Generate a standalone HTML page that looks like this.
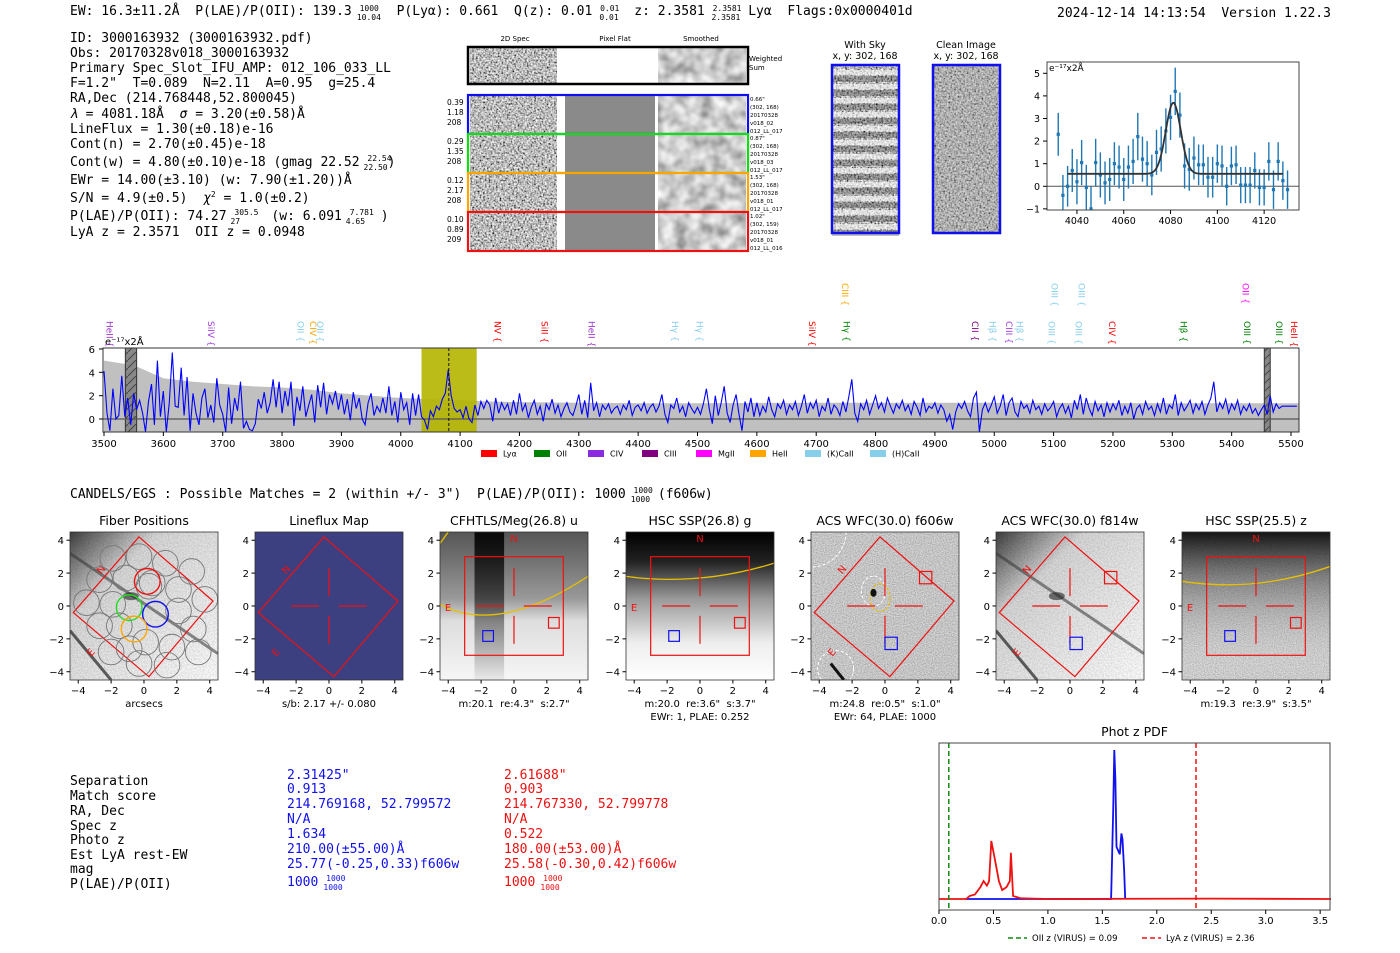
<!DOCTYPE html>
<html><head><meta charset="utf-8"><style>
html,body{margin:0;padding:0;background:#fff;width:1400px;height:953px;overflow:hidden}
svg{display:block}
text,tspan{white-space:pre}
.m{font-family:"DejaVu Sans Mono","Liberation Mono",monospace;font-size:13px;white-space:pre}
.s{font-family:"DejaVu Sans","Liberation Sans",sans-serif}
</style></head><body>
<svg id="root" width="1400" height="953" viewBox="0 0 1400 953" xmlns="http://www.w3.org/2000/svg" xml:space="preserve">
<defs>
<filter id="nz" x="0" y="0" width="100%" height="100%"><feTurbulence type="fractalNoise" baseFrequency="0.55" numOctaves="2" seed="3"/><feColorMatrix type="matrix" values="1.7 0 0 0 -0.35  1.7 0 0 0 -0.35  1.7 0 0 0 -0.35  0 0 0 0 1"/></filter>
<filter id="nzs" x="0" y="0" width="100%" height="100%"><feTurbulence type="fractalNoise" baseFrequency="0.08" numOctaves="2" seed="5"/><feColorMatrix type="matrix" values="1.0 0 0 0 0.1  1.0 0 0 0 0.1  1.0 0 0 0 0.1  0 0 0 0 1"/></filter>
<filter id="nzl" x="0" y="0" width="100%" height="100%"><feTurbulence type="fractalNoise" baseFrequency="0.7" numOctaves="1" seed="8"/><feColorMatrix type="matrix" values="0.8 0 0 0 0.45  0.8 0 0 0 0.45  0.8 0 0 0 0.45  0 0 0 0 1"/></filter>
<filter id="nzm" x="0" y="0" width="100%" height="100%"><feTurbulence type="fractalNoise" baseFrequency="0.9" numOctaves="1" seed="11"/><feColorMatrix type="matrix" values="1.2 0 0 0 0.05  1.2 0 0 0 0.05  1.2 0 0 0 0.05  0 0 0 0 1"/></filter>
<pattern id="hatch" width="8" height="8" patternUnits="userSpaceOnUse"><path d="M0 8 L8 0" stroke="#444" stroke-width="1"/></pattern>
<linearGradient id="g4" x1="0" y1="0" x2="0" y2="1"><stop offset="0" stop-color="#000"/><stop offset="0.2" stop-color="#222"/><stop offset="0.45" stop-color="#999"/><stop offset="0.75" stop-color="#eee"/><stop offset="1" stop-color="#fff"/></linearGradient>
<linearGradient id="g7" x1="0" y1="0" x2="0" y2="1"><stop offset="0" stop-color="#000" stop-opacity="0.9"/><stop offset="0.3" stop-color="#333" stop-opacity="0.5"/><stop offset="1" stop-color="#fff" stop-opacity="0"/></linearGradient>
<linearGradient id="g3" x1="0" y1="0" x2="0" y2="1"><stop offset="0" stop-color="#555"/><stop offset="0.45" stop-color="#999"/><stop offset="0.6" stop-color="#ddd"/><stop offset="1" stop-color="#f6f6f6"/></linearGradient>
<linearGradient id="g3v" x1="0" y1="0" x2="0" y2="1"><stop offset="0" stop-color="#000" stop-opacity="0.9"/><stop offset="0.45" stop-color="#000" stop-opacity="0.55"/><stop offset="1" stop-color="#000" stop-opacity="0.05"/></linearGradient>
<linearGradient id="g1" x1="0" y1="0" x2="1" y2="1"><stop offset="0" stop-color="#000" stop-opacity="0.75"/><stop offset="0.3" stop-color="#000" stop-opacity="0.15"/><stop offset="1" stop-color="#000" stop-opacity="0"/></linearGradient>
</defs>

<!-- header -->
<text class="m" x="70" y="15">EW: 16.3±11.2Å  P(LAE)/P(OII): 139.3 <tspan font-size="8" dy="-4">1000</tspan><tspan font-size="8" dx="-22" dy="9">10.04</tspan><tspan dy="-5">  P(Lyα): 0.661  Q(z): 0.01 </tspan><tspan font-size="8" dy="-4">0.01</tspan><tspan font-size="8" dx="-20" dy="9">0.01</tspan><tspan dy="-5">  z: 2.3581 </tspan><tspan font-size="8" dy="-4">2.3581</tspan><tspan font-size="8" dx="-30" dy="9">2.3581</tspan><tspan dy="-5"> Lyα  Flags:0x0000401d</tspan></text>
<text class="m" x="1057" y="17">2024-12-14 14:13:54  Version 1.22.3</text>

<g>
<text class="m" x="70" y="42">ID: 3000163932 (3000163932.pdf)</text>
<text class="m" x="70" y="57">Obs: 20170328v018_3000163932</text>
<text class="m" x="70" y="72">Primary Spec_Slot_IFU_AMP: 012_106_033_LL</text>
<text class="m" x="70" y="87">F=1.2"  T=0.089  N=2.11  A=0.95  g=25.4</text>
<text class="m" x="70" y="102">RA,Dec (214.768448,52.800045)</text>
<text class="m" x="70" y="118"><tspan font-style="italic">λ</tspan> = 4081.18Å  <tspan font-style="italic">σ</tspan> = 3.20(±0.58)Å</text>
<text class="m" x="70" y="133">LineFlux = 1.30(±0.18)e-16</text>
<text class="m" x="70" y="148">Cont(n) = 2.70(±0.45)e-18</text>
<text class="m" x="70" y="166">Cont(w) = 4.80(±0.10)e-18 (gmag 22.52 <tspan font-size="8" dy="-5">22.54</tspan><tspan font-size="8" dx="-28" dy="9">22.50</tspan><tspan dy="-4">)</tspan></text>
<text class="m" x="70" y="184">EWr = 14.00(±3.10) (w: 7.90(±1.20))Å</text>
<text class="m" x="70" y="202">S/N = 4.9(±0.5)  <tspan font-style="italic">χ</tspan><tspan font-size="8" dy="-5">2</tspan><tspan dy="5"> = 1.0(±0.2)</tspan></text>
<text class="m" x="70" y="220">P(LAE)/P(OII): 74.27 <tspan font-size="8" dy="-5">305.5</tspan><tspan font-size="8" dx="-28" dy="9">27</tspan><tspan dy="-4">    (w: 6.091 </tspan><tspan font-size="8" dy="-5">7.781</tspan><tspan font-size="8" dx="-28" dy="9">4.65</tspan><tspan dy="-4">  )</tspan></text>
<text class="m" x="70" y="236">LyA z = 2.3571  OII z = 0.0948</text>
</g>

<!-- 2D spectra -->
<g class="s" font-size="7">
<text x="515" y="41" text-anchor="middle">2D Spec</text>
<text x="615" y="41" text-anchor="middle">Pixel Flat</text>
<text x="701" y="41" text-anchor="middle">Smoothed</text>
<rect x="470" y="48" width="87" height="35" filter="url(#nz)"/>
<rect x="658" y="48" width="88" height="35" filter="url(#nzs)"/>
<rect x="468" y="47" width="280" height="37" fill="none" stroke="#000" stroke-width="2.5"/>
<text x="749" y="61">Weighted</text><text x="749" y="70">Sum</text>
<g id="rows2d"></g>
</g>

<g class="s" font-size="9.5">
<text x="865" y="48" text-anchor="middle">With Sky</text>
<text x="865" y="59" text-anchor="middle">x, y: 302, 168</text>
<text x="966" y="48" text-anchor="middle">Clean Image</text>
<text x="966" y="59" text-anchor="middle">x, y: 302, 168</text>
<rect x="832" y="65" width="67" height="168" filter="url(#nz)"/>
<g id="skystripes"></g>
<rect x="832" y="65" width="67" height="168" fill="none" stroke="#1010ee" stroke-width="2.5"/>
<rect x="933" y="65" width="67" height="168" filter="url(#nz)"/>
<rect x="933" y="65" width="67" height="168" fill="#999" opacity="0.35"/>
<rect x="933" y="65" width="67" height="168" fill="none" stroke="#1010ee" stroke-width="2.5"/>
</g>

<g id="zoomplot"></g>
<g id="specplot"></g>

<text class="m" x="70" y="498">CANDELS/EGS : Possible Matches = 2 (within +/- 3")  P(LAE)/P(OII): 1000 <tspan font-size="8" dy="-5">1000</tspan><tspan font-size="8" dx="-22" dy="9">1000</tspan><tspan dy="-4"> (f606w)</tspan></text>

<g id="cutouts"></g>

<g>
<g fill="#000">
<text class="m" x="70" y="785">Separation</text><text class="m" x="70" y="800">Match score</text><text class="m" x="70" y="815">RA, Dec</text><text class="m" x="70" y="830">Spec z</text><text class="m" x="70" y="844">Photo z</text><text class="m" x="70" y="859">Est LyA rest-EW</text><text class="m" x="70" y="873">mag</text><text class="m" x="70" y="888">P(LAE)/P(OII)</text>
</g>
<g fill="#1010ee">
<text class="m" x="287" y="779">2.31425"</text><text class="m" x="287" y="793">0.913</text><text class="m" x="287" y="808">214.769168, 52.799572</text><text class="m" x="287" y="823">N/A</text><text class="m" x="287" y="838">1.634</text><text class="m" x="287" y="853">210.00(±55.00)Å</text><text class="m" x="287" y="868">25.77(-0.25,0.33)f606w</text><text class="m" x="287" y="886">1000 <tspan font-size="8" dy="-5">1000</tspan><tspan font-size="8" dx="-22" dy="9">1000</tspan></text>
</g>
<g fill="#ee1010">
<text class="m" x="504" y="779">2.61688"</text><text class="m" x="504" y="793">0.903</text><text class="m" x="504" y="808">214.767330, 52.799778</text><text class="m" x="504" y="823">N/A</text><text class="m" x="504" y="838">0.522</text><text class="m" x="504" y="853">180.00(±53.00)Å</text><text class="m" x="504" y="868">25.58(-0.30,0.42)f606w</text><text class="m" x="504" y="886">1000 <tspan font-size="8" dy="-5">1000</tspan><tspan font-size="8" dx="-22" dy="9">1000</tspan></text>
</g>
</g>

<g id="pdfplot"></g>
</svg>

<script>
// ===== full spectrum data (5 Å steps from 3500) =====
var specStart = 3500;
var specStep = 5;
var specFlux = [
4.1,0.5,-1,2.6,0,0.3,3.7,0.2,1.8,-0.5,
2.2,0.8,1.6,0.5,-1.1,1.5,3,-0.5,5,0.2,
2.4,-1.1,1.4,5.7,1.1,1,4.4,0.3,3.6,-1,
2.2,0.5,-0.5,1.8,2.6,0.1,1.2,-0.3,3.5,1.2,
0.4,-1.1,2.7,-0.4,1.8,0.7,3.2,-0.8,-0.2,-0.9,
-1,-0.4,1.7,0.9,2.3,0.5,1.4,3.4,1.0,3.2,
0.5,2.4,1.1,3.2,-0.6,1.9,0.7,2.8,0.2,1.2,
2.1,-0.3,2.9,1.0,3.1,0.4,2.1,1.3,2.4,0.8,
2.1,0.4,1.7,-0.1,2.3,0.9,1.8,0.0,-0.5,1.4,
2.2,0.3,1.1,0.6,1.8,0.5,2.8,0.3,1.5,-0.3,
2.3,0.8,1.4,-0.5,2.2,0.3,2.1,0.2,-0.1,-0.9,
0.7,0.2,1.1,0.8,1.7,2.2,4.2,2.0,0.9,0.6,
0.8,0.1,1.1,0.0,-0.3,1.2,0.3,1.5,0.9,1.6,
1.2,-0.2,1.8,0.5,1.4,0.8,1.3,0.3,1.6,0.4,
2.2,0.7,1.3,0.1,1.0,1.6,0.4,1.1,-0.2,1.3,
0.8,1.7,0.5,1.2,0.2,0.9,1.4,0.6,0.3,1.1,
2.1,0.4,1.6,0.1,3.1,0.7,1.4,0.2,1.2,0.8,
1.3,0.5,0.9,1.1,0.4,1.2,0.8,1.6,0.3,1.0,
1.2,0.7,1.4,0.5,1.0,1.3,0.6,1.1,2.1,0.4,
-0.3,1.2,0.9,1.8,0.6,1.1,0.2,1.4,0.9,0.5,
1.0,0.4,1.3,2.6,0.8,-0.4,2.0,0.3,1.4,2.8,
0.5,-0.3,1.2,2.1,0.4,-1.0,1.5,0.6,1.8,0.2,
1.4,0.3,1.1,0.6,1.9,0.8,0.2,1.3,0.9,1.6,
0.4,1.2,0.8,1.5,0.3,1.1,2.1,0.5,1.4,0.9,
1.6,0.2,1.1,0.7,1.8,0.4,1.2,0.9,0.3,1.5,
0.6,1.9,3.4,0.5,-0.2,1.3,0.8,1.6,0.4,1.2,
2.0,0.9,1.4,0.6,1.8,1.1,0.5,1.3,0.9,1.6,
0.7,1.2,0.4,1.5,1.0,0.3,1.8,0.6,1.1,0.9,
1.4,0.5,1.2,0.8,-0.2,0.4,-0.9,0.6,1.3,0.9,
1.5,0.7,0.2,1.8,2.3,-1.3,0.8,1.4,0.6,1.2,
1.9,0.5,1.1,2.1,0.3,1.4,1.8,0.6,0.2,1.5,
0.9,1.2,0.5,1.6,0.8,1.1,0.4,1.3,0.7,1.0,
1.5,0.2,0.9,1.3,0.5,1.1,0.1,1.6,0.8,2.1,
0.4,1.8,0.9,0.3,1.5,0.7,1.2,0.2,1.4,0.6,
1.3,0.8,1.6,0.3,1.1,0.5,1.4,0.0,0.9,1.2,
0.4,1.5,0.8,1.1,0.3,1.3,0.6,1.8,0.4,1.2,
0.9,2.1,0.3,1.4,0.7,1.1,1.6,0.5,1.3,0.8,
1.5,0.4,1.2,1.8,3.2,0.6,1.4,0.9,1.7,0.5,
1.3,0.8,1.6,0.4,1.1,0.7,1.3,0.5,0.9,0.3,
0.8,1.2,0.4,2.0,0.6,1.3,0.9,1.1,1.1,1.1,
1.1,1.1,1.1];
var noiseWave = [3500,3550,3600,3650,3700,3750,3800,3850,3900,3950,4000,4050,4100,4150,4200,4300,4400,4500,4700,5000,5300,5500];
var noiseLevel = [5.0,4.6,3.5,3.2,3.0,2.8,2.7,2.5,2.2,2.0,1.8,1.7,1.6,1.5,1.45,1.4,1.35,1.35,1.4,1.4,1.35,1.35];
var specTicks = [3500,3600,3700,3800,3900,4000,4100,4200,4300,4400,4500,4600,4700,4800,4900,5000,5100,5200,5300,5400,5500];
var specYTicks = [0,2,4,6];
var lineNames = ["HeII","SiIV","OII","CIV","OII","NV","SiII","HeII","Hγ","Hγ","SiIV","Hγ","CII","Hβ","CIII","Hβ","OIII","OIII","CIV","Hβ","OIII","OIII","HeII","CIII","OIII","OIII","OII"];
var lineWaves = [3510,3681,3832,3853,3865,4164,4243,4322,4463,4504,4694,4752,4968,4998,5026,5043,5097,5143,5199,5320,5427,5481,5506,4749,5102,5148,5424];
var lineColors = ["#9932cc","#a040e0","#87ceeb","#ffa500","#87ceeb","#ff0000","#ff0000","#9932cc","#87ceeb","#87ceeb","#ff0000","#008000","#800080","#87ceeb","#a040e0","#87ceeb","#87ceeb","#87ceeb","#ff0000","#008000","#008000","#008000","#ff0000","#ffa500","#87ceeb","#87ceeb","#ff00ff"];
var lineRow = [0,0,0,0,0,0,0,0,0,0,0,0,0,0,0,0,0,0,0,0,0,0,0,1,1,1,1];
var legendNames = ["Lyα","OII","CIV","CIII","MgII","HeII","(K)CaII","(H)CaII"];
var legendColors = ["#ff0000","#008000","#8a2be2","#800080","#ff00ff","#ffa500","#87ceeb","#87ceeb"];

// ===== zoom fit data =====
var fitWave = [4032,4034,4036,4038,4040,4042,4044,4046,4048,4050,4052,4054,4056,4058,4060,4062,4064,4066,4068,4070,4072,4074,4076,4078,4080,4082,4084,4086,4088,4090,4092,4094,4096,4098,4100,4102,4104,4106,4108,4110,4112,4114,4116,4118,4120,4122,4124,4126,4128,4130];
var fitFlux = [2.3,-0.4,0.0,0.7,0.2,1.05,-0.05,-1.0,1.05,0.5,0.15,0.3,1.0,0.85,0.3,0.85,1.1,2.2,1.2,1.0,0.5,1.5,1.65,2.45,3.05,4.2,3.15,0.9,0.75,1.25,0.95,0.95,0.4,0.4,1.0,0.9,0.0,0.9,0.95,0.05,0.05,0.05,0.7,-0.05,-0.05,1.1,-0.15,1.1,0.25,-0.15];
var fitErr = [0.95,0.9,0.9,0.95,1.0,1.0,1.0,1.0,1.05,1.0,0.95,0.95,0.95,0.95,0.95,0.95,1.0,1.05,1.0,1.0,0.9,1.0,1.0,1.0,1.0,1.05,1.0,1.0,0.95,0.95,0.9,0.9,0.9,0.9,0.85,0.9,0.85,0.85,0.85,0.8,0.8,0.8,0.8,0.8,0.8,0.85,0.85,0.85,0.85,0.85];
var fitParams = [4081.18, 3.20, 3.15, 0.55]; // center, sigma, amplitude, continuum
var fitTicks = [4040,4060,4080,4100,4120];
var fitYTicks = [-1,0,1,2,3,4,5];

// ===== photo-z PDF =====
var pdfRedZ = [0,0.25,0.28,0.33,0.38,0.41,0.44,0.46,0.48,0.51,0.55,0.58,0.62,0.65,0.66,0.68,0.75,1.0,2.5,3.6];
var pdfRedP = [0,0,0.02,0.03,0.08,0.12,0.09,0.12,0.39,0.28,0.12,0.06,0.08,0.12,0.31,0.02,0.005,0,0.003,0];
var pdfBlueZ = [0.25,1.58,1.60,1.61,1.62,1.63,1.66,1.675,1.685,1.70,1.71];
var pdfBlueP = [0,0,0.6,1.0,0.8,0.35,0.3,0.44,0.4,0.2,0];
var pdfTicks = [0.0,0.5,1.0,1.5,2.0,2.5,3.0,3.5];
var pdfOIIz = [0.09];
var pdfLyAz = [2.36];

// ===== cutouts =====
var cutTitles = ["Fiber Positions","Lineflux Map","CFHTLS/Meg(26.8) u","HSC SSP(26.8) g","ACS WFC(30.0) f606w","ACS WFC(30.0) f814w","HSC SSP(25.5) z"];
var cutSub1 = ["arcsecs","s/b: 2.17 +/- 0.080","m:20.1  re:4.3\"  s:2.7\"","m:20.0  re:3.6\"  s:3.7\"","m:24.8  re:0.5\"  s:1.0\"","","m:19.3  re:3.9\"  s:3.5\""];
var cutSub2 = ["","","","EWr: 1, PLAE: 0.252","EWr: 64, PLAE: 1000","",""];
var cutTicks = [-4,-2,0,2,4];
var fiberX = [-1.9,-0.3,1.3,2.9,-2.7,-1.1,0.5,2.1,3.7,-3.5,-1.9,0.3,2.1,3.0,-2.7,-1.5,0.1,1.7,3.3,-2.0,-0.3,1.4,-0.9];
var fiberY = [2.9,3.0,2.6,2.1,1.6,1.7,1.4,1.0,0.4,0.2,0.1,1.2,-0.3,-1.4,-1.2,-1.2,-2.2,-2.5,-2.8,-2.8,-3.5,-3.6,-2.6];
var fibColX = [0.2,-0.9,0.7,-0.6];
var fibColY = [1.5,-0.1,-0.5,-1.4];
var fibColC = ["#ee1111","#22dd22","#1111ee","#ffa500"];
var rows2dLabels = [["0.39","1.18","208"],["0.29","1.35","208"],["0.12","2.17","208"],["0.10","0.89","209"]];
var rows2dRight = [["0.66\"","(302, 168)","20170328","v018_02","012_LL_017"],["0.87\"","(302, 168)","20170328","v018_03","012_LL_017"],["1.53\"","(302, 168)","20170328","v018_01","012_LL_017"],["1.02\"","(302, 159)","20170328","v018_01","012_LL_016"]];
var rows2dColors = ["#1010ee","#11dd11","#ffa500","#ee1111"];

var NS = "http://www.w3.org/2000/svg";
function mk(tag, attrs, parent, txt) {
  var e = document.createElementNS(NS, tag);
  for (var k in attrs) e.setAttribute(k, attrs[k]);
  if (txt !== undefined) e.textContent = txt;
  parent.appendChild(e);
  return e;
}
function txtStyle(e, size) { e.setAttribute("font-family", "DejaVu Sans, Liberation Sans, sans-serif"); e.setAttribute("font-size", size); }

// ---- 2D spec rows ----
(function(){
  var g = document.getElementById("rows2d");
  for (var i = 0; i < 4; i++) {
    var y = 96 + i * 39;
    var r1 = mk("rect", {x:470, y:y, width:87, height:37, filter:"url(#nz)"}, g);
    
    
    mk("rect", {x:565, y:y, width:90, height:37, fill:"#8a8a8a"}, g);
    mk("rect", {x:658, y:y, width:88, height:37, filter:"url(#nzs)"}, g);
    var fr = mk("rect", {x:468, y:y-1, width:280, height:39, fill:"none", stroke:rows2dColors[i], "stroke-width":2.2}, g);
    
    
    for (var j = 0; j < 3; j++) {
      var t = mk("text", {x:447, y:y + 9 + j * 10}, g, rows2dLabels[i][j]);
      txtStyle(t, 7.5);
    }
    for (var j = 0; j < 5; j++) {
      var t2 = mk("text", {x:750, y:y + 5 + j * 8}, g, rows2dRight[i][j]);
      txtStyle(t2, 5.5);
    }
  }
  var s = document.getElementById("skystripes");
  for (var k = 0; k < 12; k++) {
    mk("rect", {x:832, y:70 + k * 14, width:67, height:5, fill:"#fff", opacity:0.55}, s);
    mk("rect", {x:832, y:76 + k * 14, width:67, height:6, fill:"#000", opacity:0.25}, s);
  }
})();

// ---- zoom fit plot ----
(function(){
  var g = document.getElementById("zoomplot");
  var L = 1047, R = 1299, T = 62, B = 210;
  var x0 = 4027.2, x1 = 4134.9, y0 = -1.05, y1 = 5.5;
  function X(w){ return L + (w - x0) / (x1 - x0) * (R - L); }
  function Y(v){ return B - (v - y0) / (y1 - y0) * (B - T); }
  mk("rect", {x:L, y:T, width:R-L, height:B-T, fill:"#fff"}, g);
  mk("line", {x1:L, x2:R, y1:Y(0), y2:Y(0), stroke:"#555", "stroke-width":1}, g);
  for (var i = 0; i < fitWave.length; i++) {
    var x = X(fitWave[i]);
    var eb = mk("line", {x1:x, x2:x, y1:Y(Math.max(y0, fitFlux[i]-fitErr[i])), y2:Y(fitFlux[i]+fitErr[i]), stroke:"#1f77b4", "stroke-width":1.4}, g);
    
    
    var p = mk("rect", {x:x-1.6, y:Y(fitFlux[i])-1.6, width:3.2, height:3.2, fill:"#1f77b4"}, g);
    
    
  }
  var d = "";
  for (var w = 4036; w <= 4128; w += 0.5) {
    var v = fitParams[3] + fitParams[2] * Math.exp(-Math.pow(w - fitParams[0], 2) / (2 * fitParams[1] * fitParams[1]));
    d += (d ? "L" : "M") + X(w).toFixed(1) + " " + Y(v).toFixed(1);
  }
  var fl = mk("path", {d:d, fill:"none", stroke:"#333", "stroke-width":1.8}, g);
  
  
  mk("rect", {x:L, y:T, width:R-L, height:B-T, fill:"none", stroke:"#444", "stroke-width":1}, g);
  fitTicks.forEach(function(t){
    mk("line", {x1:X(t), x2:X(t), y1:B, y2:B+4, stroke:"#000"}, g);
    var tx = mk("text", {x:X(t), y:B+14, "text-anchor":"middle"}, g, t);
    txtStyle(tx, 9.5);
  });
  fitYTicks.forEach(function(t){
    mk("line", {x1:L-4, x2:L, y1:Y(t), y2:Y(t), stroke:"#000"}, g);
    var tx = mk("text", {x:L-7, y:Y(t)+3.5, "text-anchor":"end"}, g, t < 0 ? "−" + (-t) : t);
    txtStyle(tx, 9.5);
  });
  var u = mk("text", {x:L+2, y:T+9}, g, "e⁻¹⁷x2Å");
  txtStyle(u, 9);
})();

// ---- full spectrum ----
(function(){
  var g = document.getElementById("specplot");
  var L = 103, R = 1299, T = 348, B = 432;
  function X(w){ return 104 + (w - 3500) * 0.5935; }
  function Y(v){ return 419 - v * 11.67; }
  mk("rect", {x:L, y:T, width:R-L, height:B-T, fill:"#fff"}, g);
  var d = "M" + X(noiseWave[0]) + " " + B;
  for (var i = 0; i < noiseWave.length; i++) d += "L" + X(noiseWave[i]).toFixed(1) + " " + Y(noiseLevel[i]).toFixed(1);
  d += "L" + R + " " + Y(noiseLevel[noiseLevel.length-1]).toFixed(1) + "L" + R + " " + B + "Z";
  var nf = mk("path", {d:d, fill:"#c0c0c0"}, g);
  
  
  var yb = mk("rect", {x:X(4035), y:T, width:X(4128)-X(4035), height:B-T, fill:"#b5b500", opacity:0.9}, g);
  
  
  [[3536,3555],[5455,5465]].forEach(function(b){
    mk("rect", {x:X(b[0]), y:T, width:X(b[1])-X(b[0]), height:B-T, fill:"#888", stroke:"#333"}, g);
    mk("rect", {x:X(b[0]), y:T, width:X(b[1])-X(b[0]), height:B-T, fill:"url(#hatch)"}, g);
  });
  mk("line", {x1:L, x2:R, y1:Y(0), y2:Y(0), stroke:"#555", "stroke-width":1.2}, g);
  var pd = "";
  for (var i = 0; i < specFlux.length; i++) {
    var w = specStart + i * specStep;
    var v = Math.max(-1.1, specFlux[i]);
    pd += (pd ? "L" : "M") + X(w).toFixed(1) + " " + Y(v).toFixed(1);
  }
  var sl = mk("path", {d:pd, fill:"none", stroke:"#0000ff", "stroke-width":1.1}, g);
  
  
  mk("line", {x1:X(4081), x2:X(4081), y1:T, y2:B, stroke:"#000", "stroke-dasharray":"3,2", "stroke-width":0.9}, g);
  mk("rect", {x:L, y:T, width:R-L, height:B-T, fill:"none", stroke:"#333", "stroke-width":1}, g);
  specTicks.forEach(function(t){
    mk("line", {x1:X(t), x2:X(t), y1:B, y2:B+4, stroke:"#000"}, g);
    var tx = mk("text", {x:X(t), y:B+15, "text-anchor":"middle"}, g, t);
    txtStyle(tx, 10);
  });
  specYTicks.forEach(function(t){
    mk("line", {x1:L-4, x2:L, y1:Y(t), y2:Y(t), stroke:"#000"}, g);
    var tx = mk("text", {x:L-8, y:Y(t)+4, "text-anchor":"end"}, g, t);
    txtStyle(tx, 10);
  });
  var u = mk("text", {x:L+2, y:T-3}, g, "e⁻¹⁷x2Å");
  txtStyle(u, 10);
  for (var i = 0; i < lineNames.length; i++) {
    var x = X(lineWaves[i]);
    var y = lineRow[i] ? 283 : 321;
    var lt = mk("text", {x:0, y:0, transform:"translate(" + (x-3.5) + "," + y + ") rotate(90)", fill:lineColors[i]}, g, lineNames[i] + " {");
    txtStyle(lt, 9);
    
    
  }
  var lx = [481,534,588,642,696,750,805,870];
  for (var i = 0; i < legendNames.length; i++) {
    var sw = mk("rect", {x:lx[i], y:450, width:16, height:7, fill:legendColors[i]}, g);
    
    
    var lt2 = mk("text", {x:lx[i]+22, y:456.5}, g, legendNames[i]);
    txtStyle(lt2, 8);
    
    
  }
})();

// ---- cutouts ----
(function(){
  var root = document.getElementById("cutouts");
  var lefts = [70,255,440,626,811,996,1182];
  var S = 16.44, T = 532, W = 148;
  for (var p = 0; p < 7; p++) {
    var x0 = lefts[p];
    var g = mk("g", {}, root);
    
    
    var X = function(a){ return x0 + (a + 4.5) * S; };
    var Y = function(a){ return T + (4.5 - a) * S; };
    var cp = "c" + p;
    var clip = mk("clipPath", {id:cp}, g);
    mk("rect", {x:x0, y:T, width:W, height:W}, clip);
    var im = mk("g", {"clip-path":"url(#" + cp + ")"}, g);
    if (p === 0 || p === 5) {
      mk("rect", {x:x0, y:T, width:W, height:W, filter:"url(#nzl)"}, im);
      mk("rect", {x:x0, y:T, width:W, height:W, fill:"#fff", opacity:0.25}, im);
      mk("rect", {x:x0, y:T, width:W, height:W, fill:"url(#g1)"}, im);
      mk("line", {x1:X(-4.5), y1:Y(3.2), x2:X(4.5), y2:Y(-2.9), stroke:"#333", "stroke-width":3, opacity:0.55}, im);
      mk("line", {x1:X(-4.5), y1:Y(-1.5), x2:X(-2.0), y2:Y(-4.5), stroke:"#222", "stroke-width":3, opacity:0.7}, im);
      mk("ellipse", {cx:X(-0.8), cy:Y(0.6), rx:8, ry:4, fill:"#222", opacity:0.6}, im);
    } else if (p === 1) {
      mk("rect", {x:x0, y:T, width:W, height:W, fill:"#3c3f80"}, im);
    } else if (p === 2) {
      mk("rect", {x:x0, y:T, width:W, height:W, fill:"url(#g3)"}, im);
      mk("rect", {x:X(-2.4), y:T, width:S*1.8, height:W, fill:"url(#g3v)"}, im);
      mk("path", {d:"M" + X(-4.5) + " " + Y(0.1) + " Q" + X(-1) + " " + Y(-1.8) + " " + X(4.5) + " " + Y(1.8), fill:"none", stroke:"#e8c000", "stroke-width":1.3}, im);
      mk("line", {x1:X(-4.5), y1:Y(3.8), x2:X(-4), y2:Y(4.5), stroke:"#e8c000", "stroke-width":1.3}, im);
    } else if (p === 3) {
      mk("rect", {x:x0, y:T, width:W, height:W, fill:"url(#g4)"}, im);
      mk("path", {d:"M" + X(-4.5) + " " + Y(1.8) + " Q" + X(0) + " " + Y(1.2) + " " + X(4.5) + " " + Y(2.6), fill:"none", stroke:"#e8c000", "stroke-width":1.3}, im);
    } else if (p === 4) {
      mk("rect", {x:x0, y:T, width:W, height:W, filter:"url(#nzm)"}, im);
      mk("rect", {x:x0, y:T, width:W, height:W, fill:"#aaa", opacity:0.35}, im);
      mk("ellipse", {cx:X(-0.7), cy:Y(0.9), rx:12, ry:15, fill:"none", stroke:"#fff", "stroke-dasharray":"3,2"}, im);
      mk("ellipse", {cx:X(-0.3), cy:Y(0.5), rx:10, ry:14, fill:"none", stroke:"#e8c000", "stroke-dasharray":"3,2", "stroke-width":1.2}, im);
      mk("circle", {cx:X(-4.5), cy:Y(4.5), r:35, fill:"none", stroke:"#fff", "stroke-dasharray":"3,2"}, im);
      mk("circle", {cx:X(-3), cy:Y(-3.8), r:18, fill:"none", stroke:"#fff", "stroke-dasharray":"3,2"}, im);
      mk("line", {x1:X(-3.3), y1:Y(-3.5), x2:X(-2.5), y2:Y(-4.5), stroke:"#111", "stroke-width":3}, im);
      mk("ellipse", {cx:X(-0.7), cy:Y(0.8), rx:3, ry:4, fill:"#111"}, im);
    } else {
      mk("rect", {x:x0, y:T, width:W, height:W, filter:"url(#nzm)"}, im);
      mk("rect", {x:x0, y:T, width:W, height:W, fill:"#bbb", opacity:0.4}, im);
      mk("rect", {x:x0, y:T, width:W, height:W, fill:"url(#g7)"}, im);
      mk("path", {d:"M" + X(-4.5) + " " + Y(1.5) + " Q" + X(0) + " " + Y(0.8) + " " + X(4.5) + " " + Y(2.4), fill:"none", stroke:"#e8c000", "stroke-width":1.3}, im);
    }
    var red = "#ee1111";
    if (p === 0 || p === 1 || p === 4 || p === 5) {
      var dm = mk("polygon", {points:[[-0.3,4.2],[4.2,0.3],[0.3,-4.3],[-4.3,-0.4]].map(function(c){return X(c[0]).toFixed(1)+","+Y(c[1]).toFixed(1);}).join(" "), fill:"none", stroke:red, "stroke-width":1.2}, g);
      
      
      var nl = mk("text", {x:X(-2.6), y:Y(1.9), fill:red, transform:"rotate(-50 " + X(-2.6) + " " + Y(1.9) + ")"}, g, "N"); txtStyle(nl, 10);
      var el = mk("text", {x:X(-3.2), y:Y(-3.1), fill:red, transform:"rotate(-50 " + X(-3.2) + " " + Y(-3.1) + ")"}, g, "E"); txtStyle(el, 10);
    } else {
      mk("rect", {x:X(-3), y:Y(3), width:6*S, height:6*S, fill:"none", stroke:red, "stroke-width":1.2}, g);
      var nl2 = mk("text", {x:X(0), y:Y(3.9), fill:red, "text-anchor":"middle"}, g, "N"); txtStyle(nl2, 10);
      var el2 = mk("text", {x:X(-4.2), y:Y(-0.3), fill:red}, g, "E"); txtStyle(el2, 10);
    }
    if (p !== 0) {
      [[-2.3,0,-0.6,0],[0.6,0,2.3,0],[0,2.3,0,0.6],[0,-0.6,0,-2.3]].forEach(function(s){
        mk("line", {x1:X(s[0]), y1:Y(s[1]), x2:X(s[2]), y2:Y(s[3]), stroke:red, "stroke-width":1.2}, g);
      });
    }
    if (p === 2 || p === 3 || p === 6) {
      mk("rect", {x:X(-1.9), y:Y(-1.5), width:0.65*S, height:0.65*S, fill:"none", stroke:"#1111ee", "stroke-width":1.2}, g);
      mk("rect", {x:X(2.1), y:Y(-0.7), width:0.65*S, height:0.65*S, fill:"none", stroke:red, "stroke-width":1.2}, g);
    } else if (p === 4 || p === 5) {
      mk("rect", {x:X(0.0), y:Y(-1.9), width:0.75*S, height:0.75*S, fill:"none", stroke:"#1111ee", "stroke-width":1.2}, g);
      mk("rect", {x:X(2.1), y:Y(2.1), width:0.75*S, height:0.75*S, fill:"none", stroke:red, "stroke-width":1.2}, g);
    }
    if (p === 0) {
      for (var f = 0; f < fiberX.length; f++) {
        var fc = mk("circle", {cx:X(fiberX[f]), cy:Y(fiberY[f]), r:0.78*S, fill:"none", stroke:"#777", "stroke-width":0.9}, g);
        
        
      }
      for (var f = 0; f < fibColX.length; f++) {
        var cc = mk("circle", {cx:X(fibColX[f]), cy:Y(fibColY[f]), r:0.78*S, fill:"none", stroke:fibColC[f], "stroke-width":1.4}, g);
        
        
      }
    }
    mk("rect", {x:x0, y:T, width:W, height:W, fill:"none", stroke:"#333", "stroke-width":0.8}, g);
    cutTicks.forEach(function(t){
      mk("line", {x1:X(t), x2:X(t), y1:T+W, y2:T+W+3.5, stroke:"#000"}, g);
      var a = mk("text", {x:X(t), y:T+W+14, "text-anchor":"middle"}, g, t < 0 ? "−" + (-t) : t); txtStyle(a, 10);
      mk("line", {x1:x0-3.5, x2:x0, y1:Y(t), y2:Y(t), stroke:"#000"}, g);
      var b = mk("text", {x:x0-6, y:Y(t)+4, "text-anchor":"end"}, g, t < 0 ? "−" + (-t) : t); txtStyle(b, 10);
    });
    var tt = mk("text", {x:x0+W/2, y:T-7, "text-anchor":"middle"}, g, cutTitles[p]); txtStyle(tt, 12.5);
    
    
    if (cutSub1[p]) { var s1 = mk("text", {x:x0+W/2, y:T+W+27, "text-anchor":"middle"}, g, cutSub1[p]); txtStyle(s1, 10); }
    if (cutSub2[p]) { var s2 = mk("text", {x:x0+W/2, y:T+W+40, "text-anchor":"middle"}, g, cutSub2[p]); txtStyle(s2, 10); }
  }
})();

// ---- photo-z pdf ----
(function(){
  var g = document.getElementById("pdfplot");
  var L = 939, R = 1330, T = 743, B = 910;
  function X(z){ return L + z * 108.9; }
  function Y(p){ return 899 - p * 149; }
  mk("rect", {x:L, y:T, width:R-L, height:B-T, fill:"#fff"}, g);
  function line(zs, ps, col, name) {
    var d = "";
    for (var i = 0; i < zs.length; i++) d += (d ? "L" : "M") + X(zs[i]).toFixed(1) + " " + Y(ps[i]).toFixed(1);
    var e = mk("path", {d:d, fill:"none", stroke:col, "stroke-width":1.8}, g);
    
    
  }
  line(pdfBlueZ, pdfBlueP, "#1111ee", "pdf-blue-match");
  line(pdfRedZ, pdfRedP, "#ee1111", "pdf-red-match");
  var o = mk("line", {x1:X(pdfOIIz[0]), x2:X(pdfOIIz[0]), y1:T, y2:B, stroke:"#118811", "stroke-width":1.5, "stroke-dasharray":"5,3"}, g);
  
  
  var l = mk("line", {x1:X(pdfLyAz[0]), x2:X(pdfLyAz[0]), y1:T, y2:B, stroke:"#ee1111", "stroke-width":1.5, "stroke-dasharray":"5,3"}, g);
  
  
  mk("rect", {x:L, y:T, width:R-L, height:B-T, fill:"none", stroke:"#444", "stroke-width":1}, g);
  pdfTicks.forEach(function(t){
    mk("line", {x1:X(t), x2:X(t), y1:B, y2:B+4, stroke:"#000"}, g);
    var a = mk("text", {x:X(t), y:B+14, "text-anchor":"middle"}, g, t.toFixed(1)); txtStyle(a, 10);
  });
  var ti = mk("text", {x:(L+R)/2, y:736, "text-anchor":"middle"}, g, "Phot z PDF"); txtStyle(ti, 12.5);
  mk("line", {x1:1008, x2:1027, y1:938, y2:938, stroke:"#118811", "stroke-width":1.5, "stroke-dasharray":"5,3"}, g);
  var a1 = mk("text", {x:1032, y:941}, g, "OII z (VIRUS) = 0.09"); txtStyle(a1, 8.5);
  mk("line", {x1:1142, x2:1161, y1:938, y2:938, stroke:"#ee1111", "stroke-width":1.5, "stroke-dasharray":"5,3"}, g);
  var a2 = mk("text", {x:1166, y:941}, g, "LyA z (VIRUS) = 2.36"); txtStyle(a2, 8.5);
})();
</script>
</body></html>
